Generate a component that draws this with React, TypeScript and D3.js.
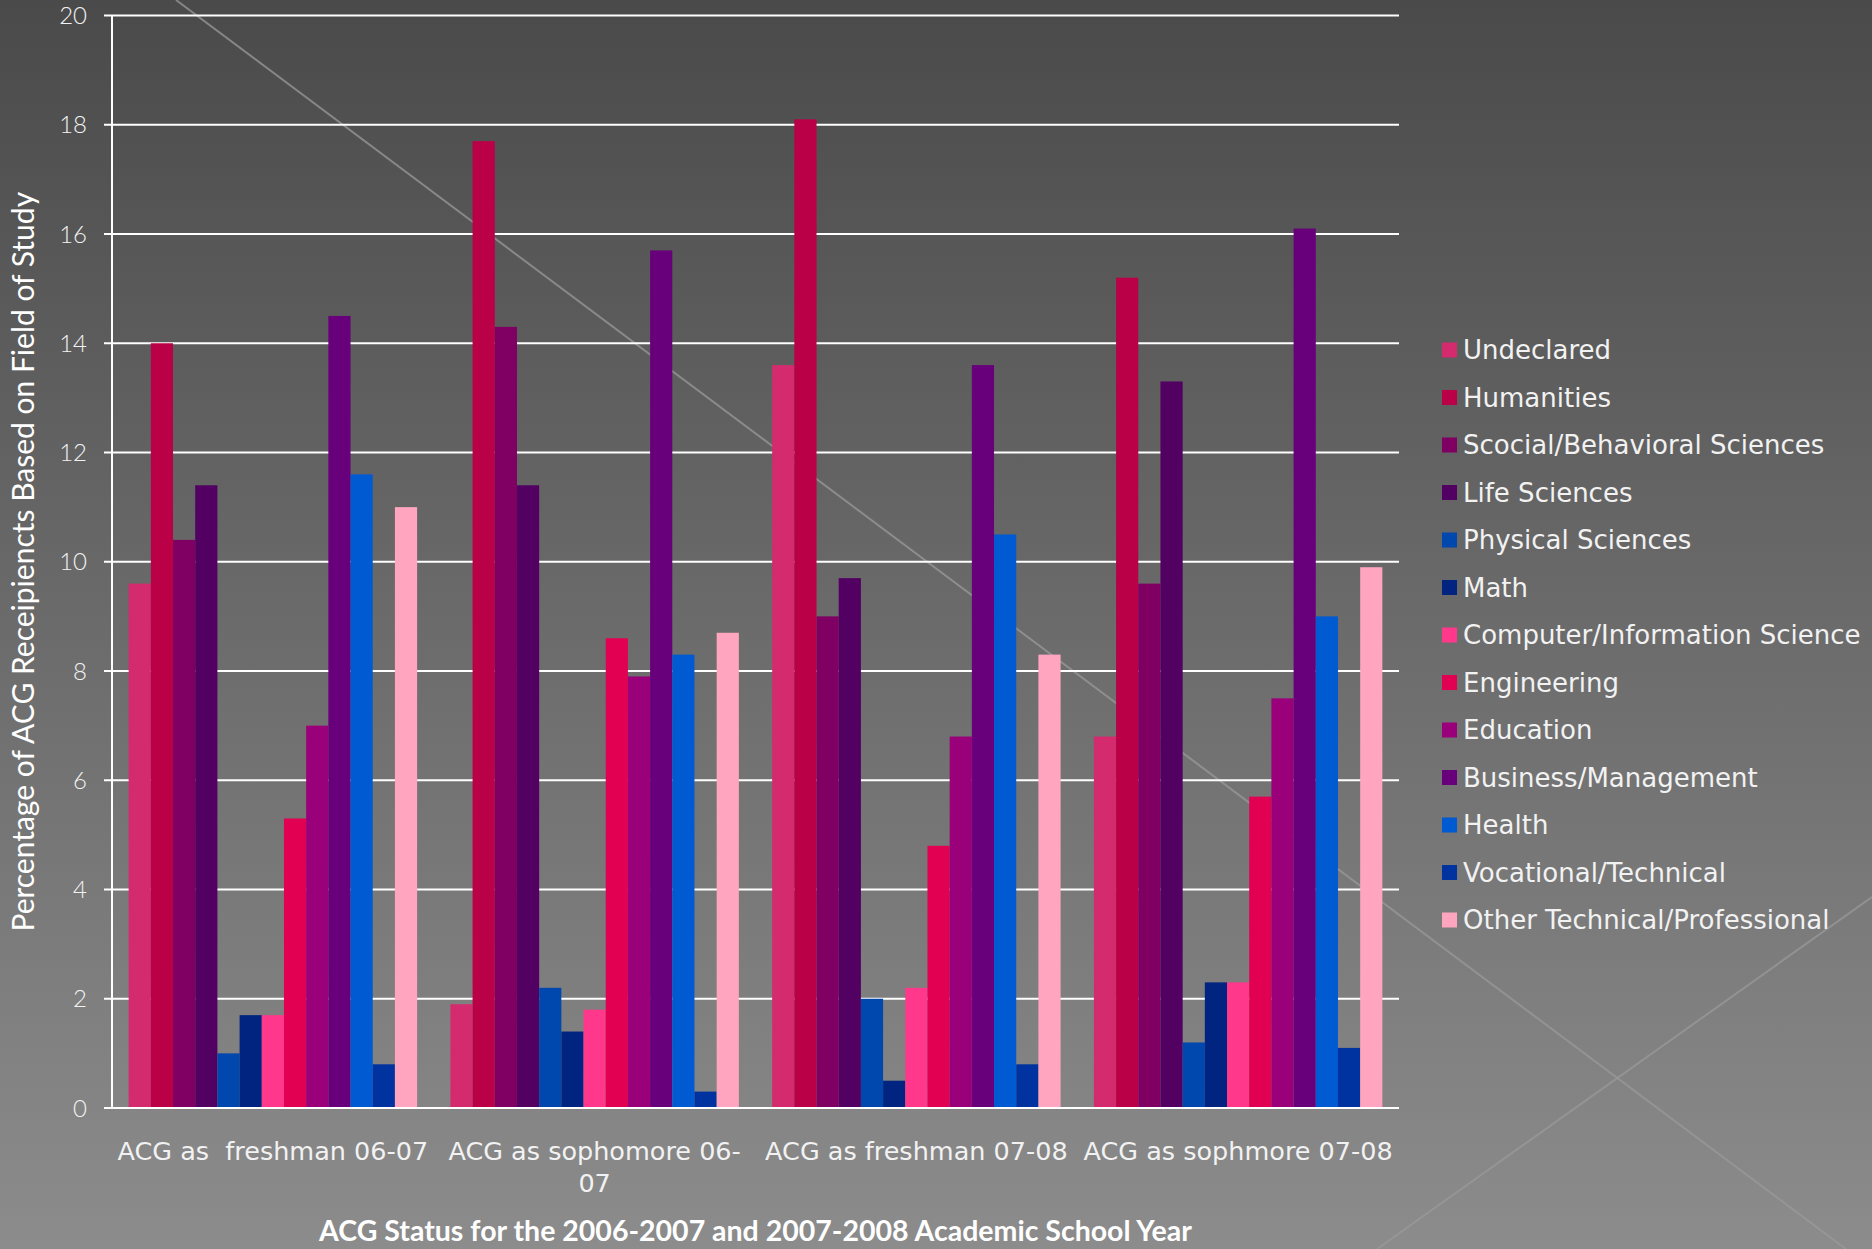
import React from "react";
import * as d3 from "d3";

const categories = ["g1", "g2", "g3", "g4"];
const categoryLabels = [
  ["ACG as  freshman 06-07"],
  ["ACG as sophomore 06-", "07"],
  ["ACG as freshman 07-08"],
  ["ACG as sophmore 07-08"],
];

const seriesNames = [
  "Undeclared",
  "Humanities",
  "Scocial/Behavioral Sciences",
  "Life Sciences",
  "Physical Sciences",
  "Math",
  "Computer/Information Science",
  "Engineering",
  "Education",
  "Business/Management",
  "Health",
  "Vocational/Technical",
  "Other Technical/Professional",
];

const undeclared = [9.6, 1.9, 13.6, 6.8];
const humanities = [14.0, 17.7, 18.1, 15.2];
const social = [10.4, 14.3, 9.0, 9.6];
const life = [11.4, 11.4, 9.7, 13.3];
const physical = [1.0, 2.2, 2.0, 1.2];
const math = [1.7, 1.4, 0.5, 2.3];
const computer = [1.7, 1.8, 2.2, 2.3];
const engineering = [5.3, 8.6, 4.8, 5.7];
const education = [7.0, 7.9, 6.8, 7.5];
const business = [14.5, 15.7, 13.6, 16.1];
const health = [11.6, 8.3, 10.5, 9.0];
const vocational = [0.8, 0.3, 0.8, 1.1];
const other = [11.0, 8.7, 8.3, 9.9];

const seriesValues = [
  undeclared, humanities, social, life, physical, math, computer,
  engineering, education, business, health, vocational, other,
];

const seriesColors = [
  "#D42B6E", "#BA0046", "#7F0062", "#520062", "#0047AE", "#002480", "#FF388C",
  "#E20052", "#9A007A", "#68007B", "#005AD2", "#0033A0", "#FFA5C0",
];

const yTicks = [0, 2, 4, 6, 8, 10, 12, 14, 16, 18, 20];

const yTitle = "Percentage of ACG Receipiencts Based on Field of Study";
const xTitle = "ACG Status for the 2006-2007 and 2007-2008 Academic School Year";

const W = 1872;
const H = 1249;
const left = 112;
const right = 1399;
const top = 15.5;
const bottom = 1108;

export default function App() {
  const y = d3.scaleLinear().domain([0, 20]).range([bottom, top]);
  const x0 = d3.scaleBand<string>().domain(categories).range([left, right]);
  const step = x0.bandwidth();
  const bw = step / 14.5;
  const gap = bw * 1.5;
  const x1 = d3
    .scaleBand<number>()
    .domain(d3.range(seriesNames.length))
    .range([gap / 2, step - gap / 2]);

  const font = "Lato, 'Open Sans', sans-serif";
  const wideFont = "'DejaVu Sans', sans-serif";

  return (
    <svg
      width={W}
      height={H}
      style={{ position: "absolute", left: 0, top: 0, display: "block" }}
    >
      <defs>
        <linearGradient id="bg" x1="0" y1="0" x2="0" y2="1">
          <stop offset="0" stopColor="#4a4a4a" />
          <stop offset="1" stopColor="#8c8c8c" />
        </linearGradient>
      </defs>
      <rect x={0} y={0} width={W} height={H} fill="url(#bg)" />
      {/* decorative diagonal lines */}
      <line x1={176} y1={0} x2={1846} y2={1249} stroke="#9a9a9a" strokeOpacity={0.75} strokeWidth={2} />
      <line x1={1377} y1={1249} x2={1872} y2={897} stroke="#9a9a9a" strokeOpacity={0.75} strokeWidth={2} />

      {/* gridlines */}
      {yTicks.map((t) => (
        <g key={t}>
          <line x1={left - 8} x2={right} y1={y(t)} y2={y(t)} stroke="#ffffff" strokeWidth={2} />
          <text
            x={left - 25}
            y={y(t)}
            dy="0.36em"
            textAnchor="end"
            fill="#f2f2f2"
            fontFamily={font}
            fontWeight={300}
            fontSize={24}
          >
            {t}
          </text>
        </g>
      ))}
      <line x1={left} x2={left} y1={top} y2={bottom} stroke="#ffffff" strokeWidth={2} />

      {/* bars */}
      {categories.map((c, ci) => (
        <g key={c} transform={`translate(${x0(c)},0)`}>
          {seriesValues.map((vals, si) => (
            <rect
              key={si}
              x={x1(si)}
              y={y(vals[ci])}
              width={x1.bandwidth()}
              height={bottom - y(vals[ci])}
              fill={seriesColors[si]}
            />
          ))}
        </g>
      ))}
      <line x1={left - 8} x2={right} y1={bottom} y2={bottom} stroke="#ffffff" strokeWidth={2} />

      {/* category labels */}
      {categories.map((c, ci) => (
        <text
          key={c}
          x={(x0(c) as number) + step / 2}
          y={1160}
          textAnchor="middle"
          fill="#f2f2f2"
          fontFamily={wideFont}
          fontSize={25.5}
          style={{ whiteSpace: "pre" }}
        >
          {categoryLabels[ci].map((l, li) => (
            <tspan key={li} x={(x0(c) as number) + step / 2} dy={li === 0 ? 0 : 32}>
              {l}
            </tspan>
          ))}
        </text>
      ))}

      {/* axis titles */}
      <text
        x={(left + right) / 2}
        y={1241}
        textAnchor="middle"
        fill="#ffffff"
        fontFamily={font}
        fontWeight={700}
        fontSize={28.5}
      >
        {xTitle}
      </text>
      <text
        transform={`translate(34,${(top + bottom) / 2}) rotate(-90)`}
        textAnchor="middle"
        fill="#ffffff"
        fontFamily={font}
        fontSize={30}
      >
        {yTitle}
      </text>

      {/* legend */}
      {seriesNames.map((n, i) => (
        <g key={n} transform={`translate(1442,${350 + i * 47.5})`}>
          <rect x={0} y={-7.5} width={15} height={15} fill={seriesColors[i]} />
          <text x={21} y={0} dy="0.36em" fill="#f2f2f2" fontFamily={wideFont} fontSize={26}>
            {n}
          </text>
        </g>
      ))}
    </svg>
  );
}
